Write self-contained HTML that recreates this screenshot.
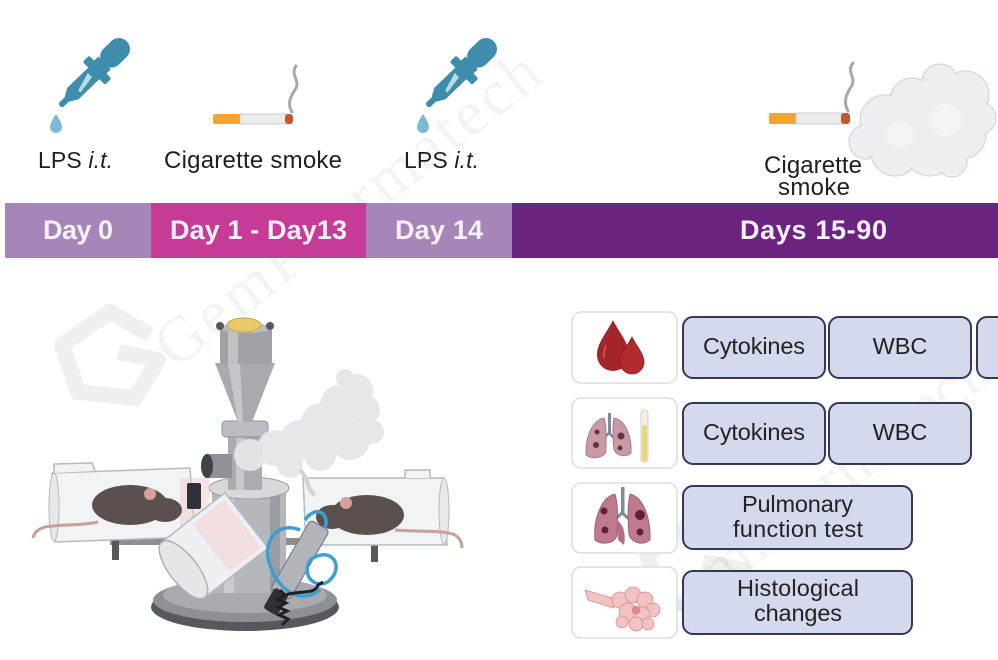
<!DOCTYPE html>
<html><head><meta charset="utf-8"><style>
html,body{margin:0;padding:0;background:#fff;width:998px;height:660px;overflow:hidden}
svg{display:block}
text{font-family:"Liberation Sans",Arial,sans-serif}
</style></head><body>
<svg width="998" height="660" viewBox="0 0 998 660" xmlns="http://www.w3.org/2000/svg">
<!-- watermark -->
<g opacity="0.05" fill="#000">
<text x="175" y="370" font-size="64" transform="rotate(-38 175 370)" textLength="470" style="font-family:'Liberation Serif',serif">GemPharmatech</text>
<text x="660" y="640" font-size="64" transform="rotate(-38 660 640)" style="font-family:'Liberation Serif',serif">GemPharmatech</text>
</g>
<g opacity="0.06" fill="none" stroke="#000" stroke-width="16" stroke-linejoin="round">
<path d="M150,335 L110,312 L62,345 L78,392 L135,398 L158,360 L118,352"/>
<path d="M735,545 L695,522 L647,555 L663,602 L720,608 L743,570 L703,562"/>
</g>

<!-- dropper 1 -->
<g transform="translate(60,106) rotate(-44)" fill="#3f8dac">
<rect x="0" y="-3" width="14" height="6" rx="2.5"/>
<polygon points="10,-3.5 18,-8 49,-8 49,8 18,8 10,3.5"/>
<polygon points="24,1.5 43,-4.5 43,1.5 24,4.5" fill="#b9dbe7"/>
<rect x="47" y="-16" width="9" height="32" rx="2"/>
<rect x="55" y="-9" width="7" height="18"/>
<rect x="60" y="-11" width="33" height="22" rx="11"/>
</g>
<path d="M56,114 Q50,123 50,127 A6,6 0 0 0 62,127 Q62,123 56,114 Z" fill="#78bcd3"/>
<!-- dropper 2 -->
<g transform="translate(427,106) rotate(-44)" fill="#3f8dac">
<rect x="0" y="-3" width="14" height="6" rx="2.5"/>
<polygon points="10,-3.5 18,-8 49,-8 49,8 18,8 10,3.5"/>
<polygon points="24,1.5 43,-4.5 43,1.5 24,4.5" fill="#b9dbe7"/>
<rect x="47" y="-16" width="9" height="32" rx="2"/>
<rect x="55" y="-9" width="7" height="18"/>
<rect x="60" y="-11" width="33" height="22" rx="11"/>
</g>
<path d="M423,114 Q417,123 417,127 A6,6 0 0 0 429,127 Q429,123 423,114 Z" fill="#78bcd3"/>

<!-- cigarette 1 -->
<g>
<rect x="213" y="114" width="28" height="10" rx="2" fill="#f0a630"/>
<rect x="240" y="114" width="47" height="10" fill="#ececec" stroke="#c4c4c4" stroke-width="0.8"/>
<rect x="285" y="114" width="8" height="10" rx="3" fill="#c4582c"/>
<path d="M292,112 C286,102 292,95 296,88 C300,80 290,75 296,66" stroke="#a9a9a9" stroke-width="3" fill="none" stroke-linecap="round"/>
</g>
<!-- cigarette 2 -->
<g>
<rect x="769" y="113" width="28" height="11" rx="2" fill="#f0a630"/>
<rect x="796" y="113" width="47" height="11" fill="#ececec" stroke="#c4c4c4" stroke-width="0.8"/>
<rect x="841" y="113" width="9" height="11" rx="3" fill="#c4582c"/>
<path d="M848,111 C842,100 848,92 852,85 C856,77 846,72 853,63" stroke="#a9a9a9" stroke-width="3" fill="none" stroke-linecap="round"/>
</g>
<!-- cloud 2 -->
<g fill="#eceef1" stroke="#d3d6db" stroke-width="1.2">
<circle cx="965" cy="95" r="24"/>
<circle cx="940" cy="82" r="18"/>
<circle cx="980" cy="118" r="16"/>
<circle cx="912" cy="100" r="22"/>
<circle cx="885" cy="120" r="25"/>
<circle cx="866" cy="142" r="17"/>
<circle cx="895" cy="152" r="24"/>
<circle cx="930" cy="150" r="26"/>
<circle cx="962" cy="135" r="24"/>
<circle cx="952" cy="162" r="15"/>
</g>
<g fill="#eceef1">
<circle cx="965" cy="95" r="22"/><circle cx="940" cy="82" r="16"/><circle cx="980" cy="118" r="14"/><circle cx="912" cy="100" r="20"/><circle cx="885" cy="120" r="23"/><circle cx="866" cy="142" r="15"/><circle cx="895" cy="152" r="22"/><circle cx="930" cy="150" r="24"/><circle cx="962" cy="135" r="22"/><circle cx="952" cy="162" r="13"/>
<circle cx="930" cy="115" r="30"/>
</g>
<g fill="#f3f4f6"><circle cx="900" cy="135" r="14"/><circle cx="945" cy="120" r="16"/></g>

<!-- top labels -->
<g fill="#1e1e1e" font-size="24">
<text x="38" y="168" textLength="75" font-size="23">LPS <tspan font-style="italic">i.t.</tspan></text>
<text x="164" y="168" textLength="178">Cigarette smoke</text>
<text x="404" y="168" textLength="75" font-size="23">LPS <tspan font-style="italic">i.t.</tspan></text>
<text x="764" y="173" textLength="98">Cigarette</text>
<text x="778" y="195" textLength="72">smoke</text>
</g>

<!-- timeline -->
<rect x="5" y="203" width="147" height="55" fill="#a686b8"/>
<rect x="151" y="203" width="216" height="55" fill="#c53b96"/>
<rect x="366" y="203" width="147" height="55" fill="#a686b8"/>
<rect x="512" y="203" width="486" height="55" fill="#6b2380"/>
<g fill="#f7f0f8" font-size="27" font-weight="bold">
<text x="43" y="239" textLength="70">Day 0</text>
<text x="170" y="239" textLength="177">Day 1 - Day13</text>
<text x="395" y="239" textLength="88">Day 14</text>
<text x="740" y="239" textLength="147">Days 15-90</text>
</g>

<!-- right panel: icon boxes -->
<g fill="#fff" stroke="#dcdde3" stroke-width="1.6">
<rect x="572" y="312" width="105" height="71" rx="9"/>
<rect x="572" y="398" width="105" height="70" rx="9"/>
<rect x="572" y="483" width="105" height="70" rx="9"/>
<rect x="572" y="567" width="105" height="71" rx="9"/>
</g>
<!-- label boxes -->
<g fill="#d4d9ed" stroke="#333a55" stroke-width="2">
<rect x="683" y="317" width="142" height="61" rx="10"/>
<rect x="829" y="317" width="142" height="61" rx="10"/>
<rect x="977" y="317" width="60" height="61" rx="10"/>
<rect x="683" y="403" width="142" height="61" rx="10"/>
<rect x="829" y="403" width="142" height="61" rx="10"/>
<rect x="683" y="486" width="229" height="63" rx="10"/>
<rect x="683" y="571" width="229" height="63" rx="10"/>
</g>
<g fill="#222" font-size="23.5">
<text x="703" y="354" textLength="102">Cytokines</text>
<text x="900" y="354" text-anchor="middle">WBC</text>
<text x="703" y="440" textLength="102">Cytokines</text>
<text x="900" y="440" text-anchor="middle">WBC</text>
<text x="742" y="512" textLength="111">Pulmonary</text>
<text x="733" y="537" textLength="130">function test</text>
<text x="737" y="596" textLength="122">Histological</text>
<text x="754" y="621" textLength="88">changes</text>
</g>

<!-- blood drops -->
<path d="M613,320 C606,334 597,343 597,355 A16,16 0 0 0 629,355 C629,343 620,334 613,320 Z" fill="#a3242b"/>
<path d="M632,337 C627,347 620,354 620,362 A12,12 0 0 0 644,362 C644,354 637,347 632,337 Z" fill="#b02a30" stroke="#8a1c22" stroke-width="0.8"/>
<path d="M606,345 C604,350 603,354 604,358" stroke="#c85058" stroke-width="2" fill="none"/>

<!-- lungs row 2 -->
<g>
<rect x="608" y="413" width="3" height="22" fill="#7d8a9a"/>
<path d="M609,433 L600,442 M609,433 L618,442" stroke="#7d8a9a" stroke-width="2.5" fill="none"/>
<path d="M604,418 C592,420 585,438 586,455 C592,460 603,458 606,452 C606,440 607,428 604,418 Z" fill="#c89aa6" stroke="#9c6f7c" stroke-width="0.8"/>
<path d="M614,418 C626,420 632,438 631,453 C626,458 617,456 614,450 C613,440 612,428 614,418 Z" fill="#c89aa6" stroke="#9c6f7c" stroke-width="0.8"/>
<circle cx="597" cy="432" r="2.5" fill="#6a2f3a"/><circle cx="596" cy="445" r="3" fill="#6a2f3a"/><circle cx="621" cy="436" r="3.5" fill="#6a2f3a"/><circle cx="620" cy="448" r="2.5" fill="#6a2f3a"/>
<rect x="641" y="410" width="7" height="52" rx="3" fill="#f3f1e6" stroke="#c9c7bc" stroke-width="0.8"/>
<rect x="642" y="425" width="5" height="36" rx="2" fill="#e9d57a"/>
</g>
<!-- lungs row 3 -->
<g>
<rect x="621" y="487" width="3.5" height="28" fill="#7d8a9a"/>
<path d="M622,513 L611,523 M622,513 L634,523" stroke="#7d8a9a" stroke-width="3" fill="none"/>
<path d="M615,494 C601,497 593,520 595,540 C603,546 614,543 617,536 C617,522 619,508 615,494 Z" fill="#c07a90" stroke="#8f5468" stroke-width="0.8"/>
<path d="M630,494 C644,497 651,520 650,540 C643,546 632,543 629,535 C628,522 627,508 630,494 Z" fill="#c07a90" stroke="#8f5468" stroke-width="0.8"/>
<path d="M617,520 C624,525 626,535 624,545 L618,540 Z" fill="#b36e84"/>
<circle cx="604" cy="511" r="3.5" fill="#5e2233"/><circle cx="605" cy="530" r="3.5" fill="#5e2233"/><circle cx="640" cy="515" r="5" fill="#5e2233"/><circle cx="640" cy="532" r="3.5" fill="#5e2233"/>
</g>
<!-- histology -->
<g fill="#f3c3c3" stroke="#d88c8c" stroke-width="0.8">
<path d="M585,590 L612,598 L614,608 L588,600 Z"/>
<circle cx="620" cy="600" r="8"/><circle cx="633" cy="595" r="8"/><circle cx="645" cy="600" r="8"/><circle cx="653" cy="610" r="7"/>
<circle cx="628" cy="612" r="9"/><circle cx="642" cy="615" r="8"/><circle cx="636" cy="624" r="7"/><circle cx="622" cy="622" r="6"/><circle cx="648" cy="624" r="6"/>
<circle cx="636" cy="610" r="4" fill="#e08c90"/>
</g>

<!-- machine -->
<g>
<!-- rod -->
<rect x="110" y="538" width="278" height="7" fill="#8b8e93"/>
<rect x="112" y="538" width="7" height="22" fill="#55585e"/>
<rect x="371" y="538" width="7" height="24" fill="#55585e"/>
<!-- base -->
<ellipse cx="245" cy="607" rx="94" ry="24" fill="#55585d"/>
<ellipse cx="245" cy="600" rx="92" ry="22" fill="#8d9095"/>
<ellipse cx="245" cy="595" rx="82" ry="18" fill="#a8abb0"/>
<!-- column -->
<rect x="212" y="488" width="74" height="105" fill="#b4b7bb"/>
<rect x="224" y="488" width="10" height="105" fill="#c9cbcf"/>
<rect x="270" y="488" width="10" height="105" fill="#9a9da2"/>
<ellipse cx="249" cy="488" rx="40" ry="11" fill="#d6d8dc" stroke="#9a9da2"/>
<rect x="228" y="436" width="34" height="54" fill="#a9acb1"/>
<rect x="236" y="436" width="8" height="54" fill="#c5c7cb"/>
<rect x="222" y="421" width="46" height="16" rx="4" fill="#b9bcc0" stroke="#8d9095"/>
<polygon points="215,363 275,363 252,422 238,422" fill="#a7aaaf"/>
<polygon points="228,363 240,363 243,422 238,422" fill="#c4c6ca"/>
<rect x="220" y="328" width="52" height="36" rx="3" fill="#9fa2a7"/>
<rect x="228" y="328" width="10" height="36" fill="#bfc1c5"/>
<ellipse cx="246" cy="328" rx="26" ry="5" fill="#b9bcc0"/>
<ellipse cx="244" cy="325" rx="17" ry="7" fill="#e9c969" stroke="#c9a545"/>
<circle cx="220" cy="326" r="4" fill="#55585d"/><circle cx="270" cy="326" r="4" fill="#55585d"/>
<!-- side pipe -->
<rect x="206" y="454" width="26" height="24" fill="#8f9297"/>
<ellipse cx="207" cy="466" rx="6" ry="12" fill="#3f4247"/>
<!-- left tube -->
<path d="M52,473 L190,468 L195,537 L55,542 Z" fill="#f2f3f5" stroke="#b6bac0" stroke-width="1.5"/>
<path d="M54,473 L54,464 L92,463 L95,471" fill="#f2f3f5" stroke="#b6bac0" stroke-width="1.5"/>
<ellipse cx="54" cy="507" rx="5" ry="34" fill="#e6e8eb" stroke="#b6bac0"/>
<rect x="180" y="478" width="30" height="50" fill="#f0c9c9" opacity="0.5"/>
<path d="M98,522 C80,526 60,524 45,527 C38,529 34,533 33,538" stroke="#c7a198" stroke-width="3" fill="none"/>
<ellipse cx="130" cy="505" rx="38" ry="20" fill="#5a514e"/>
<ellipse cx="165" cy="510" rx="17" ry="12" fill="#5a514e"/>
<circle cx="150" cy="494" r="6" fill="#d6a09c"/>
<rect x="187" y="483" width="14" height="26" rx="2" fill="#2f3136"/>
<!-- right tube -->
<path d="M303,478 L444,478 L447,545 L306,545 Z" fill="#f2f3f5" stroke="#b6bac0" stroke-width="1.5"/>
<path d="M405,478 L405,470 L430,470 L430,478" fill="#f2f3f5" stroke="#b6bac0" stroke-width="1.5"/>
<ellipse cx="444" cy="511" rx="5" ry="33" fill="#e6e8eb" stroke="#b6bac0"/>
<path d="M395,530 C420,532 445,530 455,535 C460,538 462,542 462,548" stroke="#c7a198" stroke-width="3" fill="none"/>
<ellipse cx="367" cy="515" rx="37" ry="20" fill="#5a514e"/>
<ellipse cx="332" cy="517" rx="16" ry="12" fill="#5a514e"/>
<circle cx="346" cy="503" r="6" fill="#d6a09c"/>
<!-- front tube -->
<g transform="translate(215,545) rotate(-38)">
<rect x="-40" y="-35" width="80" height="70" fill="#eef0f3" stroke="#b6bac0" stroke-width="1.5"/>
<rect x="-5" y="-30" width="40" height="60" fill="#f3d4d4" opacity="0.6"/>
<ellipse cx="-40" cy="0" rx="14" ry="35" fill="#e4e6ea" stroke="#aeb2b8" stroke-width="1.5"/>
</g>
<!-- nozzle & blue tubes -->
<g transform="translate(300,560) rotate(-60)">
<rect x="-40" y="-11" width="80" height="22" rx="4" fill="#b1b4b9" stroke="#6f7277"/>
<rect x="-60" y="-8" width="24" height="16" rx="3" fill="#2f3136"/>
</g>
<path d="M300,530 C275,520 262,545 270,565 C278,590 300,605 320,590 M310,560 C330,545 345,565 330,580 C320,590 300,580 310,560 M305,520 C315,505 330,512 325,528" stroke="#3b9fd1" stroke-width="3.5" fill="none"/>
<path d="M280,590 l5,5 -8,4 9,4 -8,4 9,4 -8,4 9,4 -6,6 M285,595 C300,590 315,595 318,585 l5,-3" stroke="#1f2024" stroke-width="3" fill="none"/>
<!-- smoke -->
<g fill="#e4e6e9" opacity="0.95">
<circle cx="250" cy="455" r="16"/><circle cx="275" cy="448" r="18"/><circle cx="300" cy="440" r="20"/><circle cx="322" cy="425" r="22"/>
<circle cx="340" cy="405" r="20"/><circle cx="357" cy="390" r="16"/><circle cx="365" cy="410" r="15"/><circle cx="350" cy="440" r="20"/>
<circle cx="320" cy="455" r="16"/><circle cx="290" cy="465" r="13"/><circle cx="372" cy="432" r="12"/><circle cx="345" cy="378" r="9"/>
</g>
<path d="M300,470 C310,480 305,488 315,495" stroke="#cfd2d6" stroke-width="4" fill="none"/>
</g>
</svg>
</body></html>
